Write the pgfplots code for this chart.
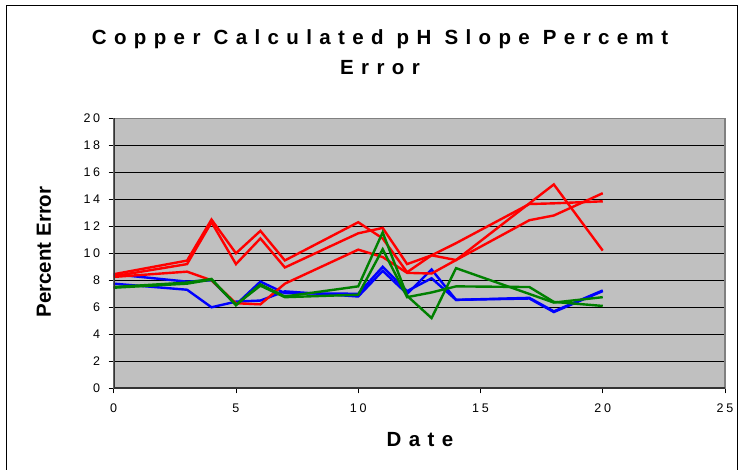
\documentclass[border=0pt]{standalone}
\usepackage{pgfplots}
\pgfplotsset{compat=1.18}
\usepackage{fontspec}
\setmainfont{Liberation Sans}
\newfontfamily\spaced[LetterSpace=36]{Liberation Sans}
\newfontfamily\tickspaced[LetterSpace=22]{Liberation Sans}
\definecolor{bggray}{HTML}{C0C0C0}
\definecolor{frgray}{HTML}{808080}
\definecolor{xred}{HTML}{FF0000}
\definecolor{xblue}{HTML}{0000FF}
\definecolor{xgreen}{HTML}{008000}
\begin{document}
\begin{tikzpicture}[x=1pt,y=1pt]
\useasboundingbox (0,0) rectangle (747,470);
\draw[line width=1pt, black] (6,-5) -- (6,464) -- (737,464) -- (737,-5);
\begin{axis}[
  at={(113.7pt,81.7pt)}, anchor=south west,
  scale only axis, width=611.3pt, height=270pt,
  xmin=0, xmax=25, ymin=0, ymax=20,
  xtick={0,5,10,15,20,25}, ytick={0,2,4,6,8,10,12,14,16,18,20},
  axis background/.style={fill=bggray},
  axis line style={draw=frgray, line width=1.5pt},
  ymajorgrids, grid style={black, line width=0.9pt},
  tick align=outside, major tick length=5pt,
  xtick pos=bottom, ytick pos=left,
  tick style={black, line width=0.8pt},
  ticklabel style={font=\tickspaced\fontsize{12.5}{14}\selectfont},
  yticklabel style={xshift=-5pt},
  xticklabel style={yshift=-7pt},
  /pgf/number format/assume math mode=true,
  clip=true,
]
\addplot[xblue, line width=2.4pt] coordinates {(0,7.75) (3,7.3) (4,6.0) (5,6.42) (6,6.5) (7,7.18) (10,6.8) (11,8.7) (12,7.0) (13,8.8) (14,6.55) (17,6.7) (18,5.7) (20,7.25)};
\addplot[xblue, line width=2.4pt] coordinates {(0,8.45) (3,7.9) (4,8.0) (5,6.2) (6,7.9) (7,7.05) (10,7.0) (11,9.0) (12,7.2) (13,8.15) (14,6.55) (17,6.65) (18,5.65) (20,7.2)};
\addplot[xred, line width=2.4pt] coordinates {(0,8.45) (3,9.46) (4,12.5) (5,10.0) (6,11.66) (7,9.47) (10,12.3) (11,11.1) (12,8.6) (13,9.85) (14,9.5) (18,15.1) (20,10.2)};
\addplot[xred, line width=2.4pt] coordinates {(0,8.3) (3,9.2) (4,12.3) (5,9.2) (6,11.1) (7,8.95) (10,11.48) (11,11.88) (12,9.2) (13,9.85) (14,10.75) (17,13.65) (18,13.7) (20,13.85)};
\addplot[xred, line width=2.4pt] coordinates {(0,8.25) (3,8.64) (4,8.0) (5,6.3) (6,6.22) (7,7.75) (10,10.27) (11,9.72) (12,8.55) (13,8.5) (14,9.5) (17,12.45) (18,12.8) (20,14.45)};
\addplot[xgreen, line width=2.4pt] coordinates {(0,7.5) (3,7.83) (4,8.1) (5,6.15) (6,7.7) (7,6.8) (10,7.55) (11,11.55) (12,6.85) (13,5.2) (14,8.9) (18,6.35) (20,6.75)};
\addplot[xgreen, line width=2.4pt] coordinates {(0,7.45) (3,7.75) (4,8.05) (5,6.2) (6,7.6) (7,6.75) (10,6.93) (11,10.3) (12,6.75) (13,7.1) (14,7.55) (17,7.5) (18,6.4) (20,6.1)};
\draw[black!80, line width=1.6pt] (rel axis cs:0,1) -- (rel axis cs:0,0) -- (rel axis cs:1,0);
\end{axis}
\node[font=\spaced\bfseries\fontsize{20.5}{30}\selectfont, align=center, anchor=center] at (380,418) {Copper Calculated pH Slope Percemt\\Error};
\node[font=\bfseries\fontsize{20.5}{22}\selectfont, rotate=90] at (44,218) {Percent Error};
\node[font=\spaced\bfseries\fontsize{20.5}{22}\selectfont] at (420,30) {Date};
\end{tikzpicture}
\end{document}
